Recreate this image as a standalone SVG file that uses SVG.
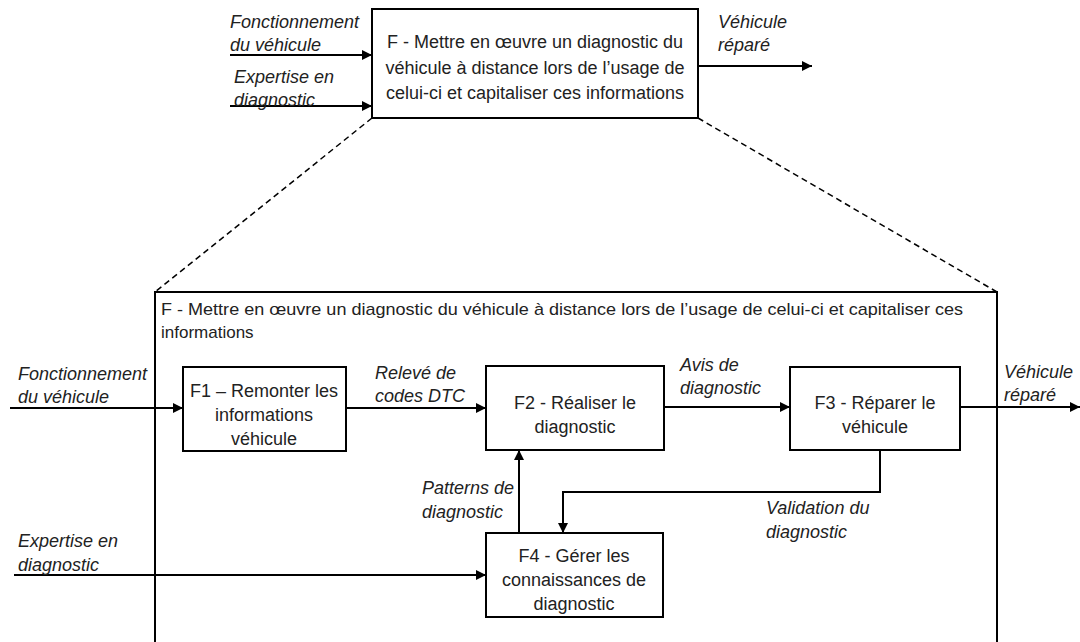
<svg xmlns="http://www.w3.org/2000/svg" width="1080" height="642" viewBox="0 0 1080 642">
<defs>
<marker id="ah" viewBox="0 0 10 10" refX="10" refY="5" markerWidth="10" markerHeight="10" markerUnits="userSpaceOnUse" orient="auto">
<path d="M0,0 L10,5 L0,10 z" fill="#000"/>
</marker>
<style>
.box{fill:#fff;stroke:#000;stroke-width:2}
.t{font-family:"Liberation Sans",Arial,sans-serif;font-size:18px;fill:#222;text-anchor:middle}
.l{font-family:"Liberation Sans",Arial,sans-serif;font-size:18px;fill:#222;font-style:italic}
.tl{font-family:"Liberation Sans",Arial,sans-serif;font-size:17px;fill:#222}
.c{fill:none;stroke:#000;stroke-width:2}
.d{fill:none;stroke:#000;stroke-width:1.5;stroke-dasharray:6,4}
</style>
</defs>
<rect width="1080" height="642" fill="#fff"/>
<g id="connectors">
<line class="d" x1="372" y1="118" x2="155" y2="292"/>
<line class="d" x1="698" y1="118" x2="997" y2="292"/>
<line class="c" x1="230" y1="55" x2="372" y2="55" marker-end="url(#ah)"/>
<line class="c" x1="230" y1="106" x2="372" y2="106" marker-end="url(#ah)"/>
<line class="c" x1="698" y1="66" x2="812" y2="66" marker-end="url(#ah)"/>
<line class="c" x1="10" y1="408" x2="183" y2="408" marker-end="url(#ah)"/>
<line class="c" x1="346" y1="408" x2="486" y2="408" marker-end="url(#ah)"/>
<line class="c" x1="664" y1="407" x2="790" y2="407" marker-end="url(#ah)"/>
<line class="c" x1="960" y1="407" x2="1080" y2="407" marker-end="url(#ah)"/>
<polyline class="c" points="880,450 880,492 563,492 563,533" marker-end="url(#ah)"/>
<line class="c" x1="519" y1="533" x2="519" y2="450" marker-end="url(#ah)"/>
<line class="c" x1="14" y1="575" x2="486" y2="575" marker-end="url(#ah)"/>
</g>
<g id="F-top">
<rect class="box" x="372" y="9" width="326" height="109"/>
<text class="t" x="535" y="48">F - Mettre en œuvre un diagnostic du</text>
<text class="t" x="535" y="74">véhicule à distance lors de l’usage de</text>
<text class="t" x="535" y="99">celui-ci et capitaliser ces informations</text>
</g>
<g id="F-detail">
<polyline points="155,642 155,292 997,292 997,642" fill="none" stroke="#000" stroke-width="2"/>
<text class="tl" x="161" y="315" textLength="802" lengthAdjust="spacingAndGlyphs">F - Mettre en œuvre un diagnostic du véhicule à distance lors de l’usage de celui-ci et capitaliser ces</text>
<text class="tl" x="161" y="338">informations</text>
</g>
<g id="F1">
<rect class="box" x="183" y="367" width="163" height="84"/>
<text class="t" x="264" y="397">F1 – Remonter les</text>
<text class="t" x="264" y="421">informations</text>
<text class="t" x="264" y="445">véhicule</text>
</g>
<g id="F2">
<rect class="box" x="486" y="366" width="178" height="84"/>
<text class="t" x="575" y="409">F2 - Réaliser le</text>
<text class="t" x="575" y="433">diagnostic</text>
</g>
<g id="F3">
<rect class="box" x="790" y="367" width="170" height="83"/>
<text class="t" x="875" y="409">F3 - Réparer le</text>
<text class="t" x="875" y="433">véhicule</text>
</g>
<g id="F4">
<rect class="box" x="486" y="533" width="177" height="84"/>
<text class="t" x="574" y="562">F4 - Gérer les</text>
<text class="t" x="574" y="586">connaissances de</text>
<text class="t" x="574" y="610">diagnostic</text>
</g>
<g id="labels">
<text class="l" x="230" y="28">Fonctionnement</text>
<text class="l" x="230" y="51">du véhicule</text>
<text class="l" x="234" y="83">Expertise en</text>
<text class="l" x="234" y="106">diagnostic</text>
<text class="l" x="718" y="28">Véhicule</text>
<text class="l" x="718" y="51">réparé</text>
<text class="l" x="18" y="380">Fonctionnement</text>
<text class="l" x="18" y="403">du véhicule</text>
<text class="l" x="375" y="379">Relevé de</text>
<text class="l" x="375" y="402">codes DTC</text>
<text class="l" x="680" y="371">Avis de</text>
<text class="l" x="680" y="394">diagnostic</text>
<text class="l" x="1004" y="378">Véhicule</text>
<text class="l" x="1004" y="401">réparé</text>
<text class="l" x="766" y="514">Validation du</text>
<text class="l" x="766" y="538">diagnostic</text>
<text class="l" x="422" y="494">Patterns de</text>
<text class="l" x="422" y="518">diagnostic</text>
<text class="l" x="18" y="547">Expertise en</text>
<text class="l" x="18" y="571">diagnostic</text>
</g>
</svg>
